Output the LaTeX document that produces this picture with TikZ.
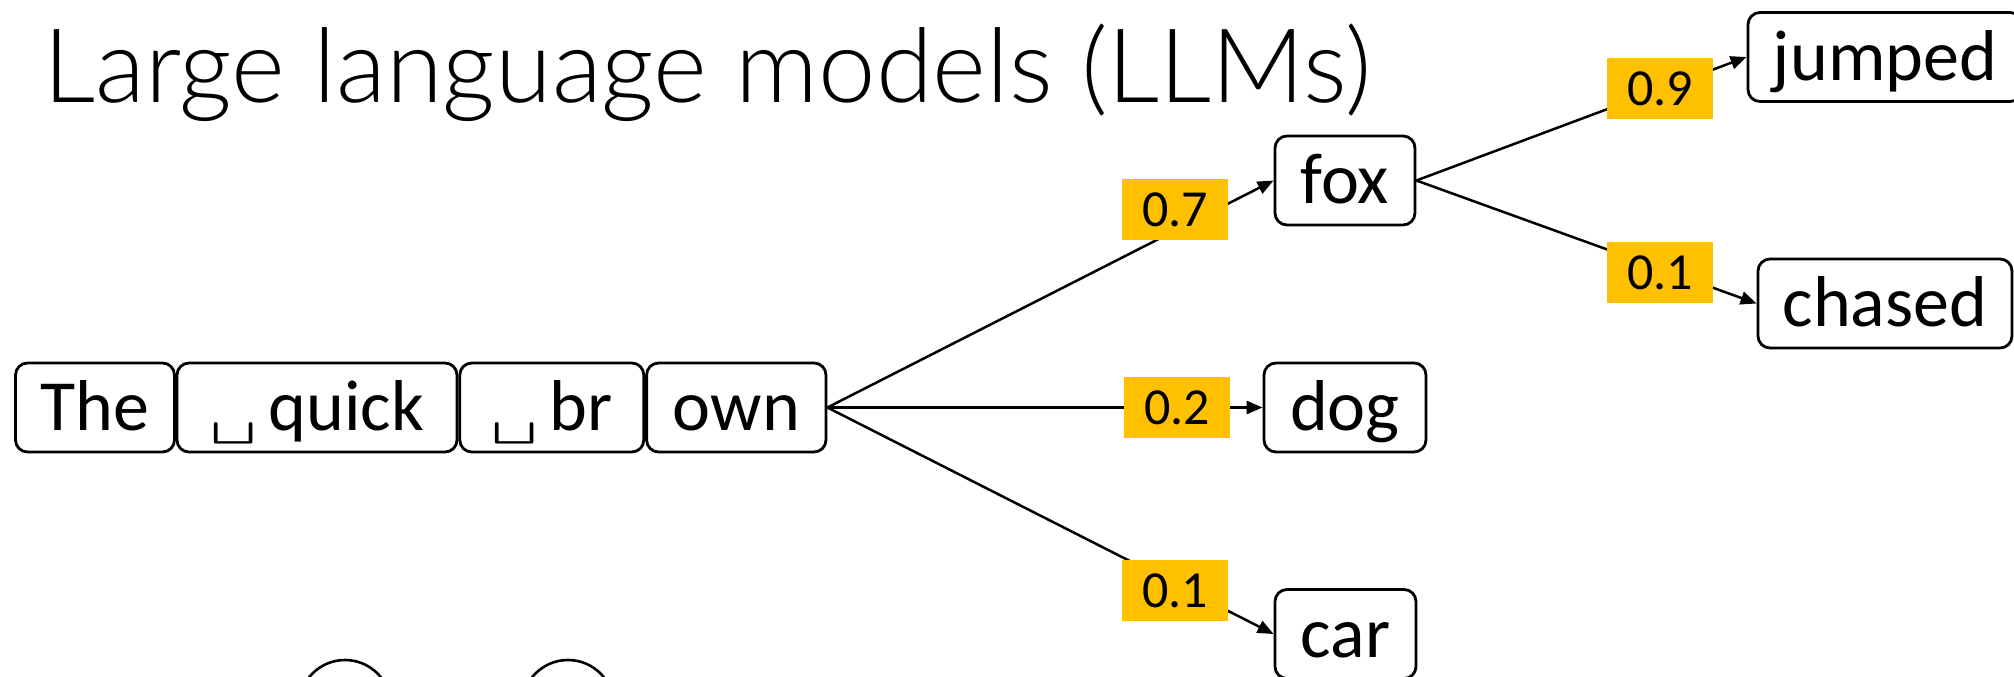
\documentclass[tikz,border=0pt]{standalone}
\usepackage{fontspec}
\setmainfont{Carlito}
\newfontfamily\titlefont{Lato Light}
\usetikzlibrary{arrows.meta}
\definecolor{probfill}{HTML}{FFC000}
\newcommand{\spacemark}{\raisebox{-3pt}{\scalebox{1.25}[0.8]{\fontfamily{lmtt}\fontsize{36}{36}\selectfont\textvisiblespace}}\hspace{6pt}}
\tikzset{
  tok/.style={draw, line width=1.4pt, rounded corners=6pt, minimum height=44.5pt,
    inner sep=0pt, font=\fontsize{36}{40}\selectfont, text height=23pt, text depth=0pt},
  prob/.style={fill=probfill, minimum width=53pt, minimum height=30.5pt, inner sep=0pt,
    font=\fontsize{26}{30}\selectfont, text height=16.5pt, text depth=0pt},
  link/.style={line width=1.25pt, -{Triangle[length=8pt,width=6.5pt]}},
  blob/.style={circle, draw, line width=1.3pt, minimum size=46pt, inner sep=0pt},
}
\begin{document}
\begin{tikzpicture}[x=0.5pt, y=-0.5pt]
  \useasboundingbox (0,0) rectangle (2014,676);

  % title
  \node[anchor=base west, inner sep=0pt, font=\titlefont\fontsize{51.5}{58}\selectfont]
    (title) at (43,102) {Large language models (LLMs)};

  % input tokens
  \node[tok, minimum width=79.5pt]  (the)   at (95,407.5)    {The};
  \node[tok, minimum width=140pt]   (quick) at (317,407.5)   {\spacemark quick};
  \node[tok, minimum width=92pt]    (br)    at (551.8,407.5) {\spacemark br};
  \node[tok, minimum width=89.7pt]  (own)   at (736.3,407.5) {own};

  % candidate next tokens
  \node[tok, minimum width=70pt]  (fox)    at (1345,180.5)  {fox};
  \node[tok, minimum width=81pt]  (dog)    at (1345,407.5)  {dog};
  \node[tok, minimum width=70.5pt] (car)   at (1345.5,634)  {car};
  \node[tok, minimum width=137pt] (jumped) at (1885,57)     {jumped};
  \node[tok, minimum width=127pt] (chased) at (1885,303.5)  {chased};

  % partially visible shapes at the bottom edge
  \node[blob] (c1) at (345,706) {};
  \node[blob] (c2) at (568,706) {};

  % connectors
  \draw[link] (own.east) -- (fox.west);
  \draw[link] (own.east) -- (dog.west);
  \draw[link] (own.east) -- (car.west);
  \draw[link] (fox.east) -- (jumped.west);
  \draw[link] (fox.east) -- (chased.west);

  % probabilities
  \node[prob] (p07) at (1175,209.5) {0.7};
  \node[prob] (p02) at (1177,407.5) {0.2};
  \node[prob] (p01) at (1175,590.5) {0.1};
  \node[prob] (p09) at (1660,88.5)  {0.9};
  \node[prob] (p01b) at (1660,272.5) {0.1};
\end{tikzpicture}
\end{document}
